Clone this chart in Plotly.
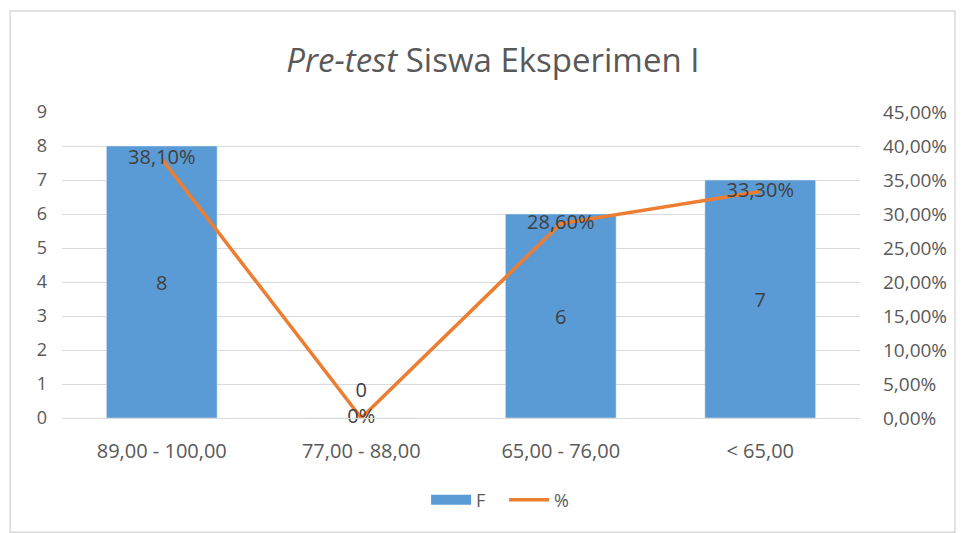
import plotly.graph_objects as go

categories = ["89,00 - 100,00", "77,00 - 88,00", "65,00 - 76,00", "< 65,00"]
freq = [8, 0, 6, 7]
pct = [0.381, 0.0, 0.286, 0.333]
pct_labels = ["38,10%", "0%", "28,60%", "33,30%"]
freq_labels = [str(v) for v in freq]

FONT = "'Open Sans', sans-serif"
TXT = "#595959"
BLUE = "#5B9BD5"
ORANGE = "#ED7D31"

zero_idx = [i for i, v in enumerate(freq) if v == 0]

fig = go.Figure()
fig.add_trace(go.Bar(
    x=categories, y=freq, name="F", marker_color=BLUE, showlegend=False,
    width=0.555, text=freq_labels,
    textposition=["inside" if v > 0 else "none" for v in freq],
    insidetextanchor="middle", constraintext="none",
    textfont=dict(family=FONT, size=20, color="#404040"),
))
# label for zero-height bar
fig.add_trace(go.Scatter(
    x=[categories[i] for i in zero_idx], y=[freq[i] for i in zero_idx],
    text=[freq_labels[i] for i in zero_idx], mode="markers+text",
    marker=dict(size=24, opacity=0), textposition="top center",
    textfont=dict(family=FONT, size=20, color="#404040"),
    showlegend=False, hoverinfo="skip", cliponaxis=False,
))
# legend entry for bars (wide swatch)
fig.add_trace(go.Scatter(
    x=[None], y=[None], name="F", mode="lines",
    line=dict(color=BLUE, width=11),
))
fig.add_trace(go.Scatter(
    x=categories, y=pct, name="%", yaxis="y2",
    mode="lines+text", line=dict(color=ORANGE, width=3.5),
    text=pct_labels, textposition="middle center",
    textfont=dict(family=FONT, size=20, color="#404040"),
    cliponaxis=False,
))

fig.update_layout(
    width=964, height=533,
    separators=",.",
    paper_bgcolor="white", plot_bgcolor="white",
    margin=dict(l=54, r=112, t=104, b=123),
    title=dict(text="<i>Pre-test</i> Siswa Eksperimen I", x=0.503, xanchor="center",
               y=0.902, yanchor="middle",
               font=dict(family=FONT, size=33, color=TXT)),
    font=dict(family=FONT, color=TXT, size=18),
    xaxis=dict(showgrid=False, showline=True, linecolor="#D9D9D9", ticks="",
               tickfont=dict(size=20, color=TXT), ticklabelstandoff=15,
               range=[-0.5, 3.5]),
    yaxis=dict(range=[0, 9], dtick=1, showgrid=True, gridcolor="#D9D9D9",
               zeroline=False, tickfont=dict(size=18, color=TXT),
               ticklabelstandoff=14),
    yaxis2=dict(range=[0, 0.45], dtick=0.05, overlaying="y", side="right",
                tickformat=".2%", showgrid=False, zeroline=False,
                tickfont=dict(size=19, color=TXT), ticklabelstandoff=22),
    legend=dict(orientation="h", x=0.554, xanchor="center", y=-0.268, yanchor="middle",
                font=dict(size=18, color=TXT), itemwidth=40, tracegroupgap=0,
                entrywidth=23, entrywidthmode="pixels"),
    showlegend=True,
    shapes=[dict(type="rect", xref="paper", yref="paper",
                 x0=-0.065, x1=1.119, y0=-0.373, y1=1.33,
                 line=dict(color="#D9D9D9", width=1.5), fillcolor="rgba(0,0,0,0)")],
)

fig.write_html("out.html")
